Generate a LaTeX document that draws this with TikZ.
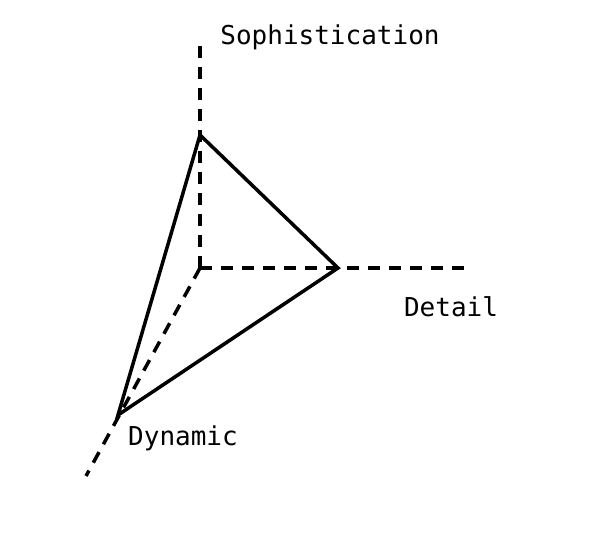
\documentclass[tikz,border=0pt]{standalone}
\usepackage{fontspec}
\setmainfont{DejaVu Sans Mono}
\usetikzlibrary{positioning}

\begin{document}
\begin{tikzpicture}[
    x=1pt, y=1pt,
    axis/.style={line width=3.5pt, dash pattern=on 12pt off 9pt},
    edge/.style={line width=3.5pt, line join=miter},
    lbl/.style={font=\fontsize{26}{30}\selectfont, inner sep=0pt}
]
\useasboundingbox (0,0) rectangle (589,540);
% axes
\coordinate (o) at (200,272);
\coordinate (soph) at (200,495);
\coordinate (det) at (465,272);
\coordinate (dyn) at (86,64);
\draw[axis] (o) -- (soph);
\draw[axis] (o) -- (det);
\draw[axis] (o) -- (dyn);

% triangle
\coordinate (a) at (200,405);
\coordinate (b) at (338,272);
\coordinate (c) at (118,125);
\draw[edge] (a) -- (b) -- (c) -- cycle;

\node[lbl] (lsoph) at (330,503) {Sophistication};
\node[lbl] (ldet) at (451,233) {Detail};
\node[lbl] (ldyn) at (183,102) {Dynamic};
\end{tikzpicture}
\end{document}
